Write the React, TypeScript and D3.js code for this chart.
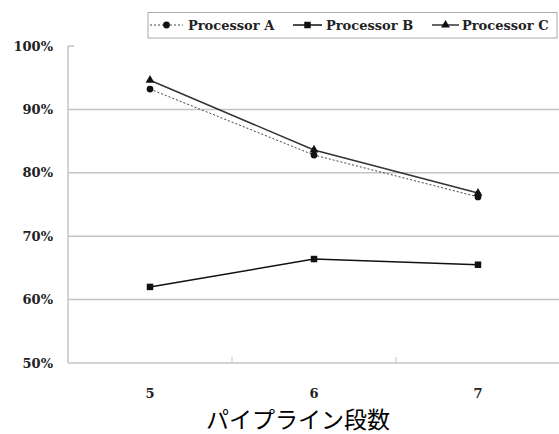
import React from "react";
import * as d3 from "d3";

const categories = ["5", "6", "7"];
const yTicks = [0.5, 0.6, 0.7, 0.8, 0.9, 1.0];
const seriesNames = ["Processor A", "Processor B", "Processor C"];
const seriesA = [0.932, 0.828, 0.762];
const seriesB = [0.62, 0.664, 0.655];
const seriesC = [0.946, 0.836, 0.768];
const xTitle = "パイプライン段数";

const W = 559;
const H = 434;
const left = 68;
const right = 560;
const top = 46;
const bottom = 363;

export default function App() {
  const x = d3.scaleBand<string>().domain(categories).range([left, right]);
  const y = d3.scaleLinear().domain([0.5, 1.0]).range([bottom, top]);
  const cx = (c: string) => (x(c) as number) + x.bandwidth() / 2;
  const line = d3
    .line<number>()
    .x((_, i) => cx(categories[i]))
    .y((v) => y(v));
  const fmt = d3.format(".0%");
  const serif = "'DejaVu Serif', serif";
  const tri = d3.symbol().type(d3.symbolTriangle).size(34)();
  const sq = d3.symbol().type(d3.symbolSquare).size(42)();
  const circ = d3.symbol().type(d3.symbolCircle).size(36)();

  const grid = "#c4c4c4";

  const legendItems = [
    { name: seriesNames[0], x0: 150, x1: 183, tx: 188, dash: "2,2", sym: circ, stroke: "#444", sw: 1 },
    { name: seriesNames[1], x0: 293, x1: 322, tx: 326, dash: undefined, sym: sq, stroke: "#111", sw: 1.5 },
    { name: seriesNames[2], x0: 432, x1: 459, tx: 462, dash: undefined, sym: tri, stroke: "#333", sw: 1.5 },
  ];

  return (
    <svg width={W} height={H} style={{ position: "absolute", left: 0, top: 0, background: "#fff" }}>
      {/* gridlines */}
      {yTicks.slice(1, -1).map((t) => (
        <line key={t} x1={left} x2={right} y1={y(t)} y2={y(t)} stroke={grid} strokeWidth={1.5} />
      ))}
      {/* axes */}
      <line x1={left} x2={left} y1={y(1.0)} y2={bottom} stroke={grid} strokeWidth={1.5} />
      <line x1={left} x2={left + 6} y1={y(1.0)} y2={y(1.0)} stroke={grid} strokeWidth={1.5} />
      <line x1={left} x2={right} y1={bottom} y2={bottom} stroke={grid} strokeWidth={1.5} />
      {categories.slice(1).map((c) => (
        <line key={c} x1={x(c) as number} x2={x(c) as number} y1={bottom} y2={bottom - 6} stroke={grid} strokeWidth={1} />
      ))}
      {/* y labels */}
      {yTicks.map((t) => (
        <text key={t} x={53} y={y(t)} dy="0.35em" textAnchor="end" fontFamily={serif} fontWeight="bold" fontSize={13} fill="#222">
          {fmt(t)}
        </text>
      ))}
      {/* x labels */}
      {categories.map((c) => (
        <text key={c} x={cx(c)} y={393} dy="0.35em" textAnchor="middle" fontFamily={serif} fontWeight="bold" fontSize={13} fill="#222">
          {c}
        </text>
      ))}
      <text x={298} y={428} textAnchor="middle" fontFamily="'Noto Sans CJK JP', sans-serif" fontSize={23} fill="#000">
        {xTitle}
      </text>
      {/* series */}
      <path d={line(seriesA) || ""} fill="none" stroke="#444" strokeWidth={1} strokeDasharray="2,2" />
      <path d={line(seriesC) || ""} fill="none" stroke="#333" strokeWidth={1.5} />
      <path d={line(seriesB) || ""} fill="none" stroke="#111" strokeWidth={1.5} />
      {seriesA.map((v, i) => (
        <path key={"a" + i} d={circ || ""} transform={`translate(${cx(categories[i])},${y(v)})`} fill="#111" />
      ))}
      {seriesC.map((v, i) => (
        <path key={"c" + i} d={tri || ""} transform={`translate(${cx(categories[i])},${y(v)})`} fill="#111" />
      ))}
      {seriesB.map((v, i) => (
        <path key={"b" + i} d={sq || ""} transform={`translate(${cx(categories[i])},${y(v)})`} fill="#111" />
      ))}
      {/* legend */}
      <rect x={148} y={12.5} width={409} height={25.5} fill="#fff" stroke="#aaa" strokeWidth={1} />
      {legendItems.map((it) => (
        <g key={it.name}>
          <line x1={it.x0} x2={it.x1} y1={25} y2={25} stroke={it.stroke} strokeWidth={it.sw} strokeDasharray={it.dash} />
          <path d={it.sym || ""} transform={`translate(${(it.x0 + it.x1) / 2},25)`} fill="#111" />
          <text x={it.tx} y={25} dy="0.35em" fontFamily={serif} fontWeight="bold" fontSize={13} fill="#222">
            {it.name}
          </text>
        </g>
      ))}
    </svg>
  );
}
